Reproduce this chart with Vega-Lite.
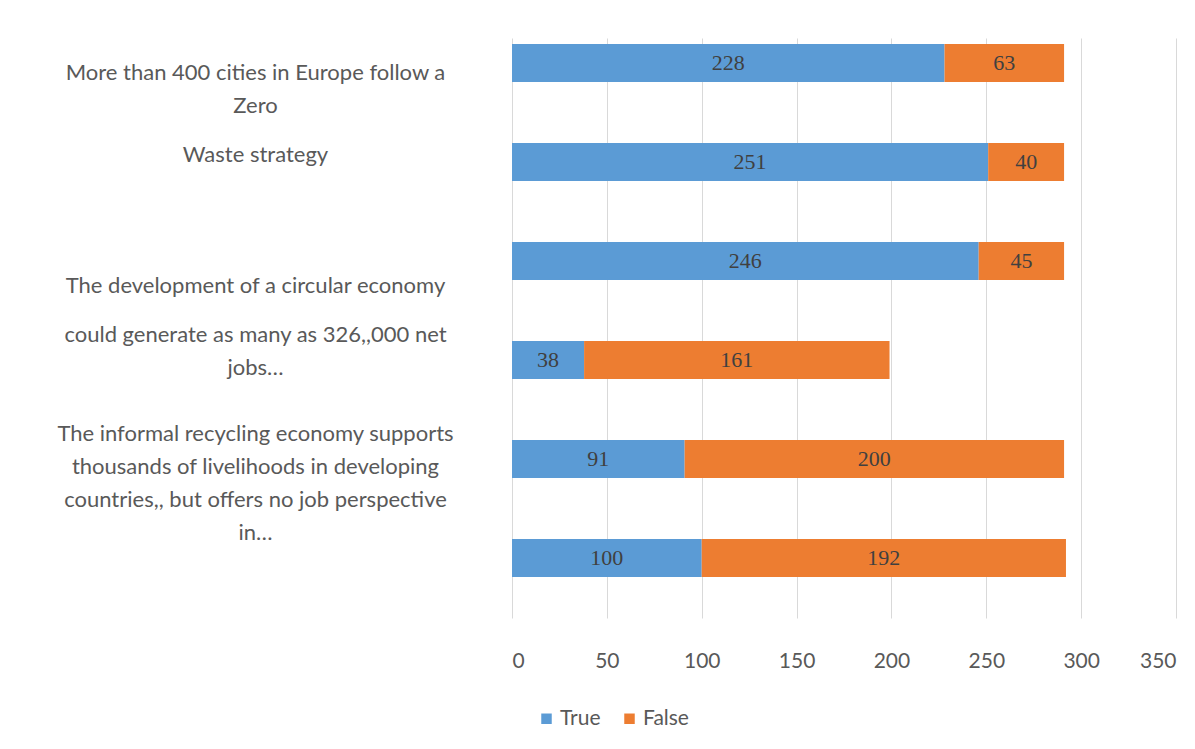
{
  "$schema": "https://vega.github.io/schema/vega-lite/v6.json",
  "width": 664,
  "height": 580,
  "autosize": {"type": "none"},
  "padding": {"left": 512, "top": 38, "right": 19, "bottom": 131},
  "background": "white",
  "config": {"view": {"stroke": null}},
  "data": {
    "values": [
      {"bar": "b1", "answer": "True", "count": 228},
      {"bar": "b1", "answer": "False", "count": 63},
      {"bar": "b2", "answer": "True", "count": 251},
      {"bar": "b2", "answer": "False", "count": 40},
      {"bar": "b3", "answer": "True", "count": 246},
      {"bar": "b3", "answer": "False", "count": 45},
      {"bar": "b4", "answer": "True", "count": 38},
      {"bar": "b4", "answer": "False", "count": 161},
      {"bar": "b5", "answer": "True", "count": 91},
      {"bar": "b5", "answer": "False", "count": 200},
      {"bar": "b6", "answer": "True", "count": 100},
      {"bar": "b6", "answer": "False", "count": 192}
    ]
  },
  "encoding": {
    "y": {
      "field": "bar",
      "type": "nominal",
      "sort": null,
      "title": null,
      "scale": {"paddingInner": 0.6162, "paddingOuter": 0.2374, "align": 0.128},
      "axis": {
        "domain": false,
        "ticks": false,
        "tickSize": 0,
        "grid": false,
        "labelPadding": 257,
        "labelAlign": "center",
        "labelLimit": 600,
        "labelFont": "Lato",
        "labelFontSize": 22,
        "labelColor": "#595959",
        "labelLineHeight": 16.5,
        "labelBaseline": {"condition": [{"test": "datum.value == 'b1'", "value": "top"}, {"test": "datum.value == 'b2'", "value": "alphabetic"}, {"test": "datum.value == 'b3' || datum.value == 'b4'", "value": "line-top"}], "value": "middle"},
        "labelExpr": "datum.value == 'b1' ? ['More than 400 cities in Europe follow a', '\u200b', 'Zero'] : datum.value == 'b2' ? 'Waste strategy' : datum.value == 'b3' ? ['\u200b', 'The development  of a circular economy', '\u200b', '\u200b', 'could generate as many as 326,,000 net', '\u200b', 'jobs…'] : datum.value == 'b4' ? ['\u200b', '\u200b', '\u200b', '\u200b', 'The informal recycling economy supports', '\u200b', 'thousands of livelihoods in developing', '\u200b', 'countries,, but offers no job perspective', '\u200b', 'in…'] : ''"
      }
    }
  },
  "layer": [
    {
      "mark": {"type": "bar"},
      "encoding": {
        "x": {
          "field": "count",
          "type": "quantitative",
          "stack": "zero",
          "title": null,
          "scale": {"domain": [0, 350], "nice": false},
          "axis": {
            "values": [0, 50, 100, 150, 200, 250, 300, 350],
            "domain": false,
            "ticks": false,
            "grid": true,
            "gridColor": "#d9d9d9",
            "gridWidth": 1,
            "labelPadding": 32,
            "labelFont": "Lato",
            "labelFontSize": 21,
            "labelColor": "#595959"
          }
        },
        "color": {
          "field": "answer",
          "type": "nominal",
          "scale": {"domain": ["True", "False"], "range": ["#5b9bd5", "#ed7d31"]},
          "legend": {
            "title": null,
            "orient": "none",
            "direction": "horizontal",
            "legendX": 24,
            "legendY": 670,
            "symbolType": "square",
            "symbolSize": 110,
            "symbolStrokeWidth": 0,
            "labelFont": "Lato",
            "labelFontSize": 21,
            "labelColor": "#595959",
            "labelOffset": 3,
            "columnPadding": 18,
            "padding": 0
          }
        },
        "order": {"field": "answer", "sort": "descending"}
      }
    },
    {
      "mark": {"type": "text", "font": "Liberation Serif", "fontSize": 22, "color": "#404040", "baseline": "middle", "align": "center"},
      "encoding": {
        "x": {"field": "count", "type": "quantitative", "stack": "zero", "bandPosition": 0.5},
        "detail": {"field": "answer"},
        "order": {"field": "answer", "sort": "descending"},
        "text": {"field": "count", "type": "quantitative"}
      }
    }
  ]
}
